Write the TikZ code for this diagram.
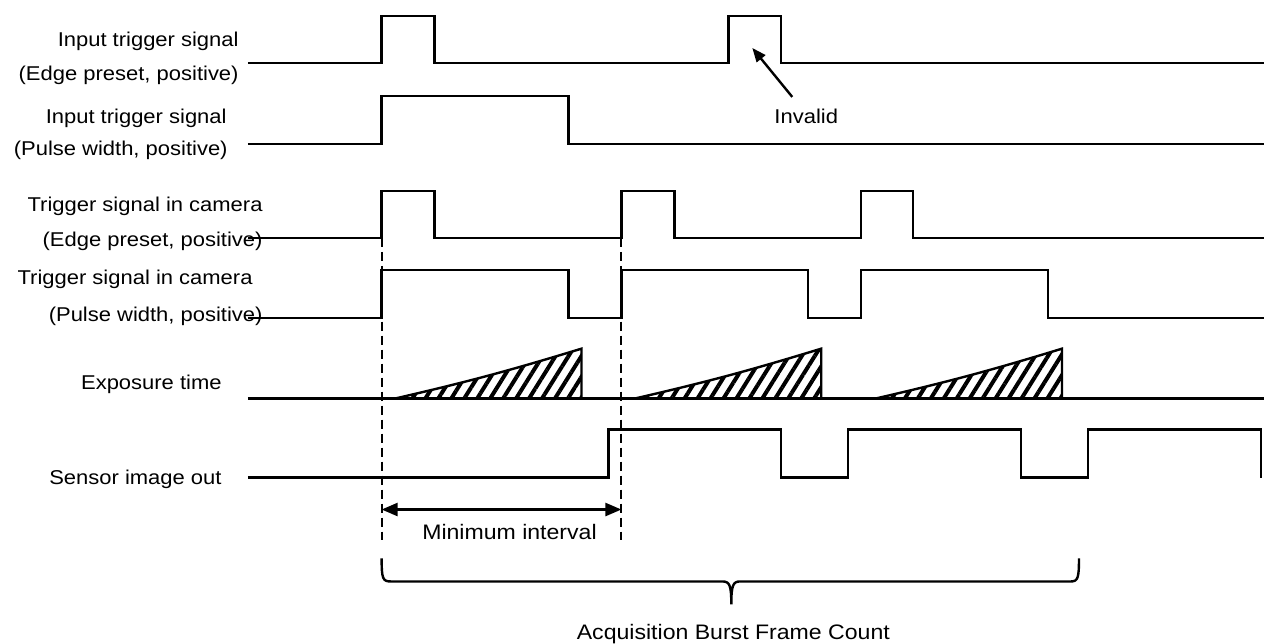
\documentclass[tikz,border=0pt]{standalone}
\usepackage{fontspec}
\setmainfont{Liberation Sans}[FakeStretch=1.1]
\usetikzlibrary{arrows.meta,patterns.meta}

\begin{document}
\begin{tikzpicture}[
  x=1pt, y=-1pt,
  font=\fontsize{20}{24}\selectfont,
  lbl/.style={anchor=base east, inner sep=0pt},
  txt/.style={anchor=base, inner sep=0pt},
  sig/.style={line width=2.4pt},
  guide/.style={line width=1.9pt, dash pattern=on 9pt off 5pt},
  hatch/.style={line width=2.4pt, pattern={Lines[angle=58, distance=11pt, line width=4pt]}},
  arr/.style={-{Triangle[length=14pt, width=11pt]}, line width=2.4pt},
  dbl/.style={{Triangle[length=16pt, width=13pt]}-{Triangle[length=16pt, width=13pt]}, line width=2.4pt}]
\fill[white] (0,0) rectangle (1265,643);
\node[lbl] (in1a) at (239,47) {Input trigger signal};
\node[lbl] (in1b) at (239,81) {(Edge preset, positive)};
\node[lbl] (in2a) at (227,124) {Input trigger signal};
\node[lbl] (in2b) at (228,156) {(Pulse width, positive)};
\node[lbl] (cam1a) at (263,212) {Trigger signal in camera};
\node[lbl] (cam1b) at (263,247) {(Edge preset, positive)};
\node[lbl] (cam2a) at (253,285) {Trigger signal in camera};
\node[lbl] (cam2b) at (263,322) {(Pulse width, positive)};
\node[lbl] (expo) at (222,390) {Exposure time};
\node[lbl] (sens) at (222,485) {Sensor image out};
\draw[sig] (248,63) -- (382,63) |- (435,16) |- (729,63) |- (782,16) |- (1265,63);
\draw[sig] (248,144) -- (382,144) |- (569,96) |- (1265,144);
\draw[sig] (248,238) -- (382,238) |- (435,191) |- (622,238) |- (675,191) |- (862,238) |- (914,191) |- (1265,238);
\draw[sig] (248,318) -- (382,318) |- (569,270) |- (622,318) |- (809,270) |- (862,318) |- (1049,270) |- (1265,318);
\foreach \s/\e in {395/582, 635/822, 876/1063}
  \draw[hatch] (\s,399) to[bend right=2] (\e,349) -- (\e,399) -- cycle;
\draw[sig] (248,399) -- (1265,399);
\draw[sig] (248,478) -- (609,478) |- (782,430) |- (849,478) |- (1022,430) |- (1089,478) |- (1262,430) -- (1262,478);
\draw[guide] (382,238) -- (382,541);
\draw[guide] (622,238) -- (622,541);
\node[txt] (inv) at (807,124) {Invalid};
\coordinate (invtip) at (753,48);
\coordinate (invtail) at (793,97);
\draw[arr] (invtail) -- (invtip);
\coordinate (m0) at (382,510);
\coordinate (m1) at (622,510);
\draw[dbl] (m0) -- (m1);
\node[txt, font=\fontsize{21}{25}\selectfont] (mint) at (510,540) {Minimum interval};
\draw[sig] (382,559) .. controls (382,579) and (383,582) .. (391,582) -- (723,582)
  .. controls (730,582) and (732,585) .. (732,605)
  .. controls (732,585) and (734,582) .. (741,582) -- (1072,582)
  .. controls (1079,582) and (1080,578) .. (1080,559);
\node[txt, font=\fontsize{21}{25}\selectfont] (burst) at (734,640) {Acquisition Burst Frame Count};
\end{tikzpicture}
\end{document}
